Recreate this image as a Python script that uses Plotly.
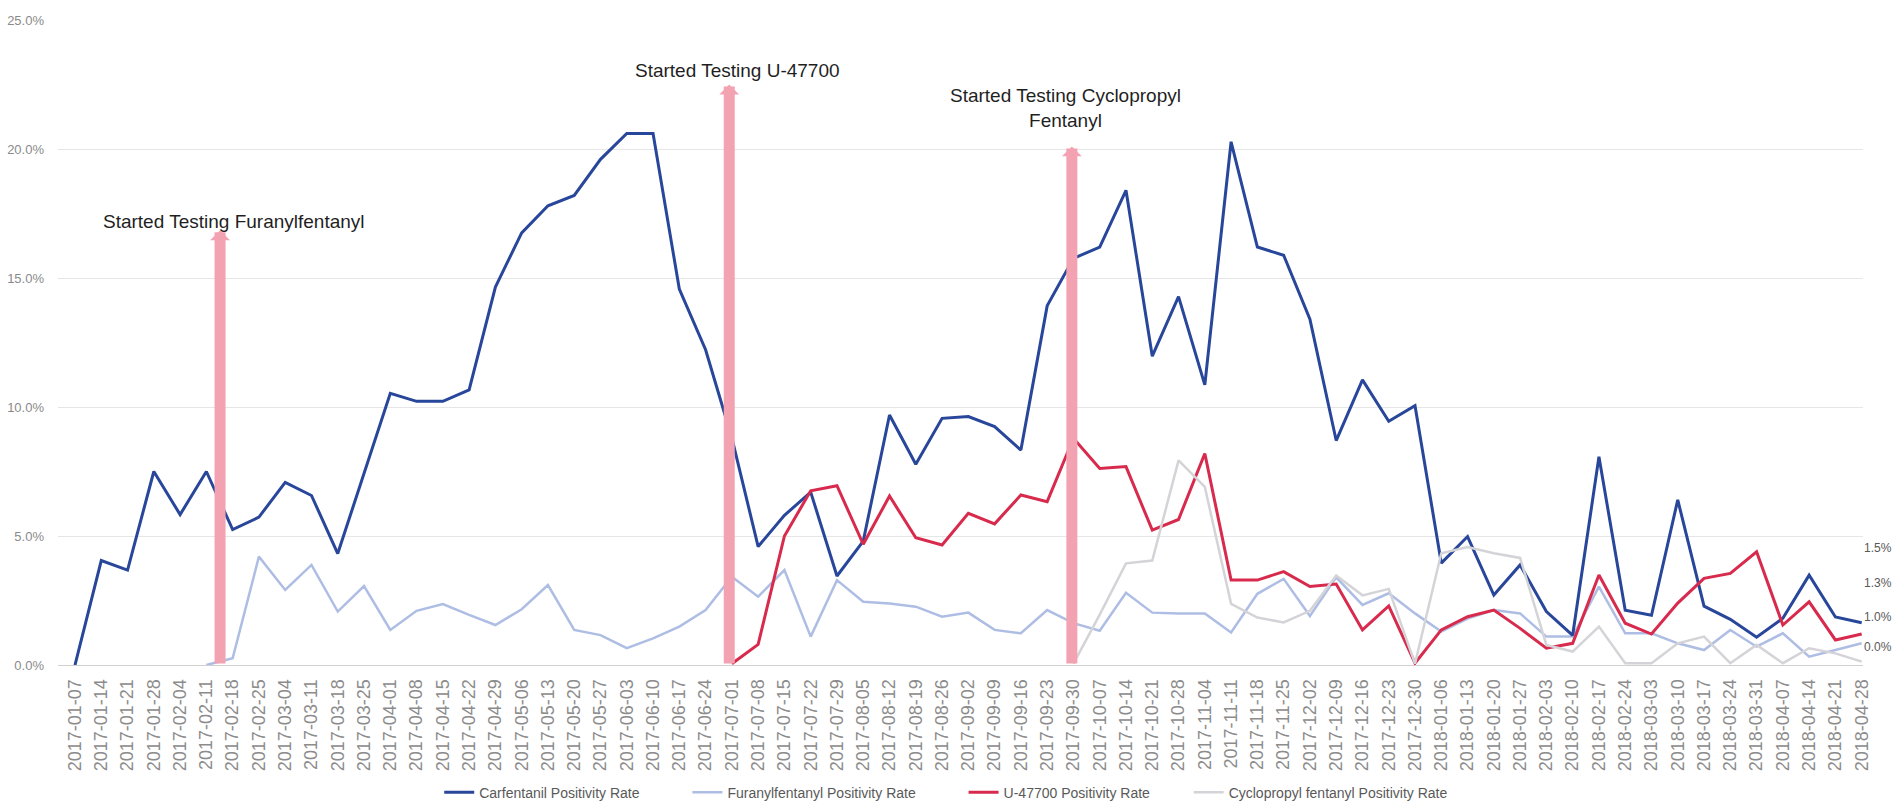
import plotly.graph_objects as go

weeks = [
    "2017-01-07", "2017-01-14", "2017-01-21", "2017-01-28", "2017-02-04", "2017-02-11",
    "2017-02-18", "2017-02-25", "2017-03-04", "2017-03-11", "2017-03-18", "2017-03-25",
    "2017-04-01", "2017-04-08", "2017-04-15", "2017-04-22", "2017-04-29", "2017-05-06",
    "2017-05-13", "2017-05-20", "2017-05-27", "2017-06-03", "2017-06-10", "2017-06-17",
    "2017-06-24", "2017-07-01", "2017-07-08", "2017-07-15", "2017-07-22", "2017-07-29",
    "2017-08-05", "2017-08-12", "2017-08-19", "2017-08-26", "2017-09-02", "2017-09-09",
    "2017-09-16", "2017-09-23", "2017-09-30", "2017-10-07", "2017-10-14", "2017-10-21",
    "2017-10-28", "2017-11-04", "2017-11-11", "2017-11-18", "2017-11-25", "2017-12-02",
    "2017-12-09", "2017-12-16", "2017-12-23", "2017-12-30", "2018-01-06", "2018-01-13",
    "2018-01-20", "2018-01-27", "2018-02-03", "2018-02-10", "2018-02-17", "2018-02-24",
    "2018-03-03", "2018-03-10", "2018-03-17", "2018-03-24", "2018-03-31", "2018-04-07",
    "2018-04-14", "2018-04-21", "2018-04-28",
]

carfentanil = [
    0.0, 4.05, 3.68, 7.5, 5.83, 7.5, 5.25, 5.73, 7.08, 6.57, 4.32, 7.4,
    10.53, 10.22, 10.22, 10.66, 14.65, 16.75, 17.8, 18.2, 19.6, 20.6, 20.6, 14.57,
    12.22, 8.8, 4.59, 5.8, 6.7, 3.45, 4.8, 9.69, 7.78, 9.56, 9.63, 9.24,
    8.33, 13.92, 15.76, 16.2, 18.4, 11.97, 14.28, 10.86, 20.28, 16.2, 15.88, 13.4,
    8.7, 11.05, 9.45, 10.05, 3.95, 4.98, 2.71, 3.88, 2.07, 1.15, 8.07, 2.12,
    1.93, 6.4, 2.28, 1.77, 1.08, 1.81, 3.48, 1.86, 1.64,
]

furanylfentanyl = [
    None, None, None, None, None, 0.0, 0.26, 4.2, 2.91, 3.88, 2.07, 3.06,
    1.36, 2.1, 2.36, 1.94, 1.55, 2.16, 3.1, 1.36, 1.16, 0.65, 1.03, 1.49,
    2.13, 3.42, 2.65, 3.68, 1.1, 3.29, 2.45, 2.38, 2.26, 1.87, 2.03, 1.36,
    1.23, 2.13, 1.62, 1.33, 2.8, 2.03, 2.0, 2.0, 1.26, 2.76, 3.34, 1.9,
    3.4, 2.33, 2.78, 2.0, 1.3, 1.8, 2.13, 2.0, 1.1, 1.1, 3.04, 1.23,
    1.23, 0.84, 0.58, 1.36, 0.71, 1.23, 0.32, 0.58, 0.84,
]

u47700 = [
    None, None, None, None, None, None, None, None, None, None, None, None,
    None, None, None, None, None, None, None, None, None, None, None, None,
    None, 0.05, 0.8, 5.0, 6.75, 6.95, 4.68, 6.55, 4.93, 4.65, 5.88, 5.47,
    6.59, 6.33, 8.79, 7.62, 7.69, 5.23, 5.64, 8.2, 3.29, 3.29, 3.62, 3.04,
    3.14, 1.36, 2.29, 0.07, 1.36, 1.87, 2.13, 1.42, 0.65, 0.84, 3.49, 1.62,
    1.2, 2.4, 3.36, 3.55, 4.39, 1.55, 2.45, 0.97, 1.2,
]

cyclopropyl = [
    None, None, None, None, None, None, None, None, None, None, None, None,
    None, None, None, None, None, None, None, None, None, None, None, None,
    None, None, None, None, None, None, None, None, None, None, None, None,
    None, None, 0.05, 1.95, 3.94, 4.05, 7.93, 6.9, 2.37, 1.84, 1.65, 2.1,
    3.47, 2.7, 2.95, 0.05, 4.33, 4.57, 4.33, 4.15, 0.78, 0.52, 1.49, 0.07,
    0.07, 0.84, 1.1, 0.07, 0.78, 0.07, 0.65, 0.45, 0.13,
]

left_ticks = [0, 5, 10, 15, 20, 25]
left_labels = ["0.0%", "5.0%", "10.0%", "15.0%", "20.0%", "25.0%"]
right_ticks = [0.70, 1.86, 3.18, 4.53]
right_labels = ["0.0%", "1.0%", "1.3%", "1.5%"]

note_texts = [
    "Started Testing Furanylfentanyl",
    "Started Testing U-47700",
    "Started Testing Cyclopropyl<br>Fentanyl",
]
note_x = [6.05, 25.2, 37.7]
note_y = [17.2, 23.03, 21.58]
arrow_x = [5.52, 24.9, 37.94]
arrow_tip = [16.85, 22.5, 20.1]

legend_x = [0.2112, 0.3487, 0.5017, 0.6264]

FONT = "Liberation Sans, Arial, sans-serif"

fig = go.Figure()
fig.add_trace(go.Scatter(x=weeks, y=cyclopropyl, mode="lines",
                         name="Cyclopropyl fentanyl Positivity Rate",
                         line=dict(color="#D4D4D8", width=2.5), yaxis="y2",
                         legend="legend4"))
fig.add_trace(go.Scatter(x=weeks, y=furanylfentanyl, mode="lines",
                         name="Furanylfentanyl Positivity Rate",
                         line=dict(color="#AEBDE3", width=2.5), legend="legend2"))
fig.add_trace(go.Scatter(x=weeks, y=carfentanil, mode="lines",
                         name="Carfentanil Positivity Rate",
                         line=dict(color="#28469A", width=3), legend="legend"))
fig.add_trace(go.Scatter(x=weeks, y=u47700, mode="lines",
                         name="U-47700 Positivity Rate",
                         line=dict(color="#D82A4D", width=3), legend="legend3"))

annotations = []
for ax_, tip in zip(arrow_x, arrow_tip):
    annotations.append(dict(x=ax_, y=tip, ax=ax_, ay=0, xref="x", yref="y",
                            axref="x", ayref="y", text="", showarrow=True,
                            arrowhead=1, arrowsize=0.3, arrowwidth=11,
                            arrowcolor="#F3A2B2"))
for t, x_, y_ in zip(note_texts, note_x, note_y):
    annotations.append(dict(x=x_, y=y_, xref="x", yref="y", text=t, showarrow=False,
                            font=dict(family=FONT, size=19, color="#1f1f1f")))

legend_style = dict(orientation="h", xanchor="left", y=-0.198, yanchor="middle",
                    font=dict(size=14, color="#595959"), bgcolor="rgba(0,0,0,0)")

fig.update_layout(
    width=1897, height=806, autosize=False,
    margin=dict(l=58, r=34, t=20, b=141, autoexpand=False),
    paper_bgcolor="white", plot_bgcolor="white",
    font=dict(family=FONT),
    showlegend=True,
    legend=dict(x=legend_x[0], **legend_style),
    legend2=dict(x=legend_x[1], **legend_style),
    legend3=dict(x=legend_x[2], **legend_style),
    legend4=dict(x=legend_x[3], **legend_style),
    xaxis=dict(type="category", range=[-0.647, 68.05], tickangle=-90,
               tickfont=dict(size=18, color="#8c8c8c"), showgrid=False,
               showline=True, linecolor="#D0D0D0", linewidth=1, ticks="",
               ticklabelstandoff=6, automargin=False),
    yaxis=dict(range=[0, 25], tickvals=left_ticks, ticktext=left_labels,
               tickfont=dict(size=13, color="#8a8a8a"), gridcolor="#E6E6E6",
               zeroline=False, showline=False, ticks="", ticklabelstandoff=13,
               automargin=False),
    yaxis2=dict(range=[0, 25], overlaying="y", side="right", tickvals=right_ticks,
                ticktext=right_labels, tickfont=dict(size=12, color="#595959"),
                showgrid=False, zeroline=False, showline=False, ticks="",
                ticklabelstandoff=0, automargin=False),
    annotations=annotations,
)

fig.write_html(
    "out.html",
    config={"displayModeBar": False},
    post_script="document.body.style.margin='0px';document.body.style.overflow='hidden';",
)
